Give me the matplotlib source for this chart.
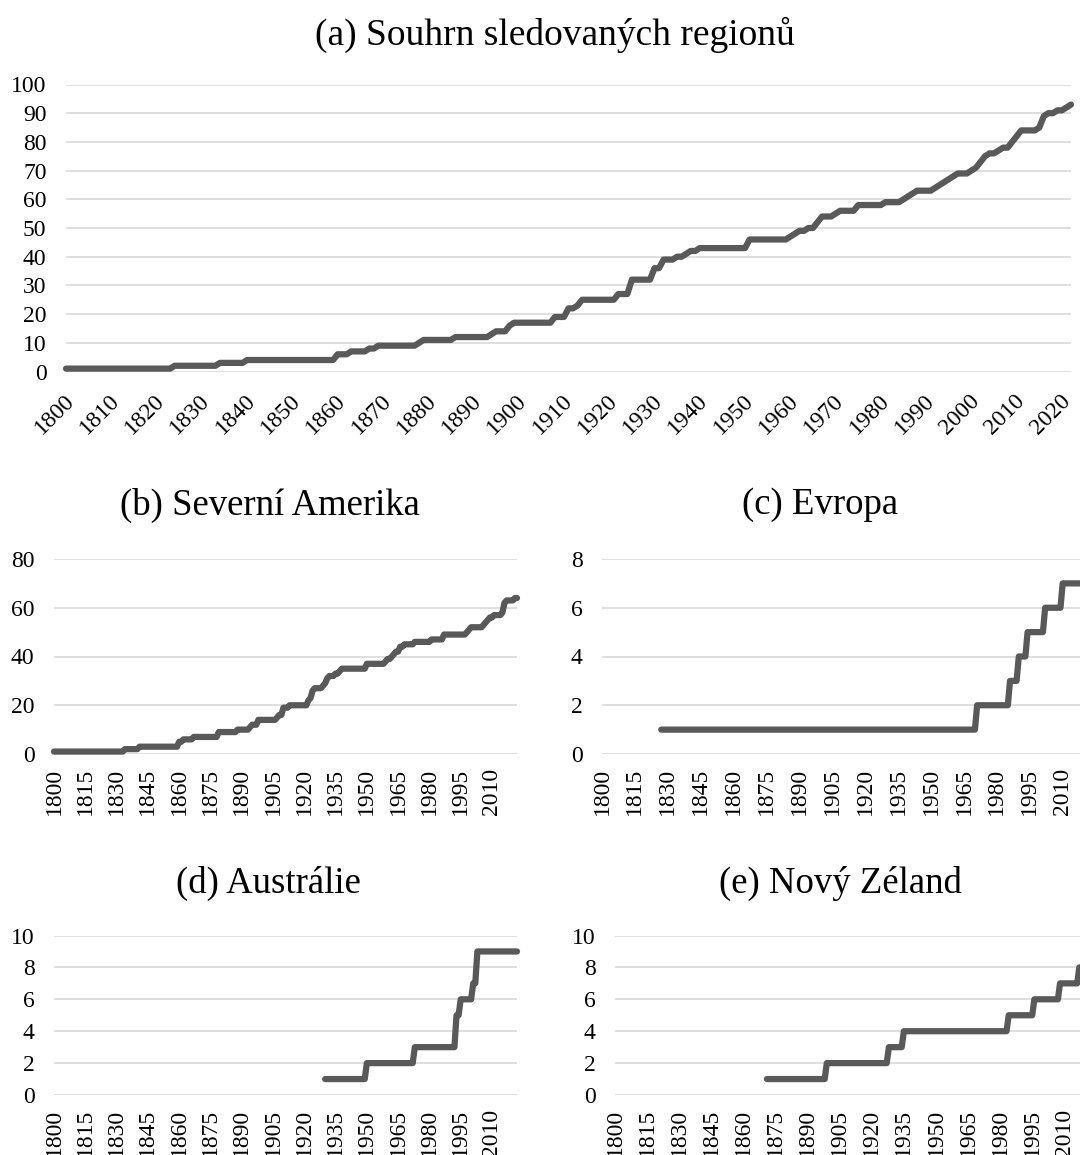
import numpy as np
import matplotlib.pyplot as plt
from matplotlib.transforms import ScaledTranslation

plt.rcParams['font.family'] = ['Liberation Serif', 'DejaVu Serif']

# years shown on every panel
first_year, last_year = 1800, 2022

# cumulative counts: year when the count changes -> new count
a_years = [1800, 1824, 1834, 1840, 1860, 1863, 1867, 1869, 1878, 1879, 1886, 1894, 1895, 1898, 1899,
           1908, 1911, 1913, 1914, 1922, 1925, 1930, 1932, 1935, 1937, 1938, 1940, 1951, 1960, 1961,
           1962, 1964, 1966, 1967, 1970, 1971, 1975, 1981, 1985, 1986, 1987, 1988, 1992, 1993, 1994,
           1995, 1996, 1997, 2000, 2001, 2002, 2003, 2004, 2006, 2007, 2009, 2010, 2011, 2015, 2016,
           2017, 2019, 2021, 2022]
a_vals = [1, 2, 3, 4, 6, 7, 8, 9, 10, 11, 12, 13, 14, 16, 17,
          19, 22, 23, 25, 27, 32, 36, 39, 40, 41, 42, 43, 46, 47, 48,
          49, 50, 52, 54, 55, 56, 58, 59, 60, 61, 62, 63, 64, 65, 66,
          67, 68, 69, 70, 71, 73, 75, 76, 77, 78, 80, 82, 84, 85, 89,
          90, 91, 92, 93]

b_years = [1800, 1834, 1841, 1860, 1862, 1867, 1879, 1888, 1894, 1895, 1898, 1907, 1908, 1910, 1913,
           1922, 1923, 1924, 1925, 1929, 1930, 1931, 1932, 1935, 1937, 1938, 1950, 1959, 1960, 1962,
           1963, 1964, 1966, 1968, 1973, 1981, 1987, 1998, 1999, 2000, 2006, 2007, 2008, 2009, 2011,
           2015, 2016, 2017, 2021]
b_vals = [1, 2, 3, 5, 6, 7, 9, 10, 11, 12, 14, 15, 16, 19, 20,
          22, 23, 26, 27, 28, 29, 31, 32, 33, 34, 35, 37, 38, 39, 40,
          41, 42, 44, 45, 46, 47, 49, 50, 51, 52, 53, 54, 55, 56, 57,
          58, 62, 63, 64]

c_years = [1827, 1971, 1986, 1990, 1994, 2002, 2010]
c_vals = [1, 2, 3, 4, 5, 6, 7]

d_years = [1930, 1950, 1973, 1993, 1995, 2001, 2003]
d_vals = [1, 2, 3, 5, 6, 7, 9]

e_years = [1871, 1899, 1928, 1935, 1984, 1996, 2008, 2017]
e_vals = [1, 2, 3, 4, 5, 6, 7, 8]

titles = ['(a) Souhrn sledovaných regionů', '(b) Severní Amerika', '(c) Evropa',
          '(d) Austrálie', '(e) Nový Zéland']
ticks_a = list(range(1800, 2021, 10))
ticks_small = list(range(1800, 2011, 15))

LINE = '#595959'
GRID = '#d9d9d9'
W, H = 1080, 1155
years = np.arange(first_year, last_year + 1)

fig = plt.figure(figsize=(W / 100, H / 100), dpi=100)


def axes_px(left, right, top, bottom):
    return fig.add_axes([left / W, 1 - bottom / H, (right - left) / W, (bottom - top) / H])


def draw(ax, ch_years, ch_vals, ymax, ystep, xticks):
    idx = np.searchsorted(ch_years, years, side='right') - 1
    vals = np.array(ch_vals, dtype=float)[np.clip(idx, 0, None)]
    vals[idx < 0] = np.nan
    ax.plot(years, vals, color=LINE, lw=4.5, solid_capstyle='round',
            solid_joinstyle='round', clip_on=False)
    ax.set_xlim(first_year, last_year)
    ax.set_ylim(0, ymax)
    ax.set_yticks(np.arange(0, ymax + 1, ystep))
    ax.yaxis.grid(True, color=GRID, lw=1.2)
    ax.set_axisbelow(True)
    for s in ax.spines.values():
        s.set_visible(False)
    ax.tick_params(length=0, labelsize=17)
    ax.tick_params(axis='y', pad=14)
    ax.set_xticks(xticks)


# (a) all regions
ax = axes_px(66, 1071, 84.5, 371.5)
draw(ax, a_years, a_vals, 100, 10, ticks_a)
ax.tick_params(axis='x', pad=19)
offset = ScaledTranslation(0.05, 0, fig.dpi_scale_trans)
for lab in ax.get_xticklabels():
    lab.set_rotation(45)
    lab.set_ha('right')
    lab.set_va('center')
    lab.set_rotation_mode('anchor')
    lab.set_transform(lab.get_transform() + offset)

# small panels
panels = [
    (54, 517, 559, 754, b_years, b_vals, 80, 20),
    (602, 1089, 559, 754, c_years, c_vals, 8, 2),
    (54, 517, 935.5, 1095, d_years, d_vals, 10, 2),
    (615, 1090, 935.5, 1095, e_years, e_vals, 10, 2),
]
for left, right, top, bottom, yrs, vls, ymax, ystep in panels:
    ax = axes_px(left, right, top, bottom)
    draw(ax, yrs, vls, ymax, ystep, ticks_small)
    ax.tick_params(axis='x', pad=10, labelrotation=90)

# titles
title_pos = [(555, 35), (270, 505), (820, 505), (268, 883), (840, 883)]
sizes = [27, 26.5, 26.5, 26.5, 26.5]
for t, (x, y), fs in zip(titles, title_pos, sizes):
    fig.text(x / W, 1 - y / H, t, ha='center', va='center', fontsize=fs)

fig.savefig('out.png', dpi=100)
